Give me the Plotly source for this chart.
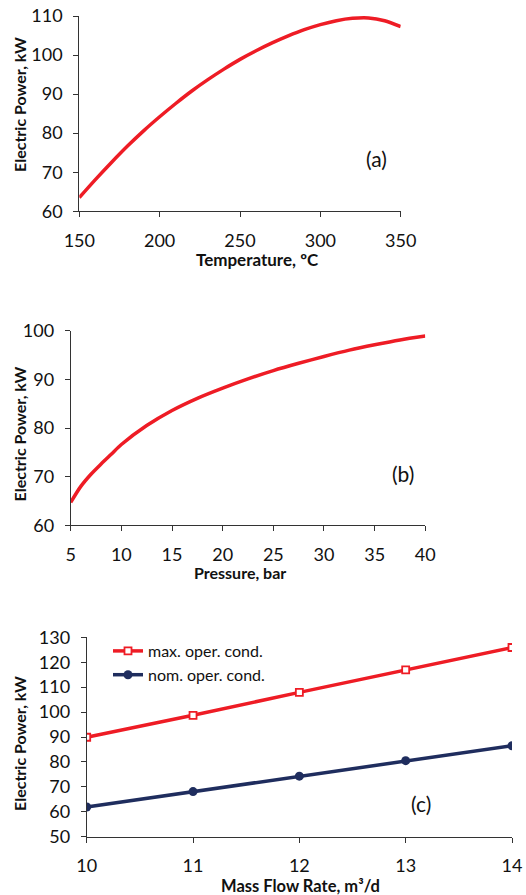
import plotly.graph_objects as go

W, H = 526, 895

# (a) Temperature vs Electric power
temp_c = [150, 160, 170, 180, 190, 200, 210, 220, 230, 240, 250, 260, 270, 280, 290, 300, 310, 320, 330, 340, 350]
power_a = [63.5, 68.1, 72.5, 76.7, 80.6, 84.2, 87.6, 90.8, 93.7, 96.4, 98.9, 101.1, 103.1, 104.9, 106.5, 107.8,
           108.8, 109.4, 109.5, 108.8, 107.3]

# (b) Pressure vs Electric power
pressure_bar = [5, 6, 7, 8, 9, 10, 12.5, 15, 17.5, 20, 22.5, 25, 27.5, 30, 32.5, 35, 37.5, 40]
power_b = [64.7, 68.0, 70.5, 72.6, 74.6, 76.6, 80.5, 83.6, 86.1, 88.2, 90.1, 91.8, 93.3, 94.7, 96.0, 97.1, 98.1, 98.9]

# (c) Mass flow rate vs Electric power
flow_rate = [10, 11, 12, 13, 14]
power_max = [89.9, 98.7, 107.9, 116.9, 125.9]
power_nom = [61.9, 68.1, 74.3, 80.5, 86.5]

x_ticks_a = [150, 200, 250, 300, 350]
y_ticks_a = [60, 70, 80, 90, 100, 110]
x_ticks_b = [5, 10, 15, 20, 25, 30, 35, 40]
y_ticks_b = [60, 70, 80, 90, 100]
x_ticks_c = [10, 11, 12, 13, 14]
y_ticks_c = [50, 60, 70, 80, 90, 100, 110, 120, 130]

RED = "#EE1C25"
NAVY = "#1F2D5E"
FONT = "Lato"
AXCOL = "#333333"


def px_x(p):
    return p / W


def px_y(p):
    return 1 - p / H


fig = go.Figure()

fig.add_trace(go.Scatter(x=temp_c, y=power_a, mode="lines",
                         line=dict(color=RED, width=3.5, shape="spline", smoothing=0.8),
                         showlegend=False, xaxis="x", yaxis="y"))
fig.add_trace(go.Scatter(x=pressure_bar, y=power_b, mode="lines",
                         line=dict(color=RED, width=3.5, shape="spline", smoothing=0.8),
                         showlegend=False, xaxis="x2", yaxis="y2"))
fig.add_trace(go.Scatter(x=flow_rate, y=power_max, mode="lines+markers", name="max. oper. cond.",
                         line=dict(color=RED, width=3.5),
                         marker=dict(symbol="square", size=7, color="white", line=dict(color=RED, width=1.8)),
                         xaxis="x3", yaxis="y3"))
fig.add_trace(go.Scatter(x=flow_rate, y=power_nom, mode="lines+markers", name="nom. oper. cond.",
                         line=dict(color=NAVY, width=3.5),
                         marker=dict(symbol="circle", size=9, color=NAVY),
                         xaxis="x3", yaxis="y3"))


def xaxis(dom, rng, ticks, anchor):
    return dict(domain=dom, range=rng, tickvals=ticks, anchor=anchor, showgrid=False, zeroline=False,
                showline=True, linecolor=AXCOL, linewidth=1, ticks="outside", ticklen=5, tickcolor=AXCOL,
                tickfont=dict(family=FONT, size=18, color="#111111"), ticklabelstandoff=8,
                automargin=False, fixedrange=True)


def yaxis(dom, rng, ticks, anchor):
    return dict(domain=dom, range=rng, tickvals=ticks, anchor=anchor, showgrid=False, zeroline=False,
                showline=True, linecolor=AXCOL, linewidth=1, ticks="outside", ticklen=5, tickcolor=AXCOL,
                tickfont=dict(family=FONT, size=18, color="#111111"), ticklabelstandoff=7,
                automargin=False, fixedrange=True)


fig.update_layout(
    width=W, height=H,
    margin=dict(l=0, r=0, t=0, b=0, autoexpand=False),
    paper_bgcolor="white", plot_bgcolor="white",
    font=dict(family=FONT, color="#111111"),
    xaxis=xaxis([px_x(79.3), px_x(400.7)], [150, 350], x_ticks_a, "y"),
    yaxis=yaxis([px_y(211.3), px_y(16)], [60, 110], y_ticks_a, "x"),
    xaxis2=xaxis([px_x(70.7), px_x(425.3)], [5, 40], x_ticks_b, "y2"),
    yaxis2=yaxis([px_y(525.3), px_y(330.7)], [60, 100], y_ticks_b, "x2"),
    xaxis3=xaxis([px_x(86.7), px_x(512)], [10, 14], x_ticks_c, "y3"),
    yaxis3=yaxis([px_y(836.7), px_y(637.3)], [50, 130], y_ticks_c, "x3"),
    showlegend=True,
    legend=dict(x=px_x(108), y=px_y(634), xanchor="left", yanchor="top", bgcolor="rgba(0,0,0,0)",
                font=dict(family=FONT, size=16, color="#111111"), tracegroupgap=0, itemwidth=30),
)

ann = [
    dict(text="<b>Electric Power, kW</b>", x=px_x(19), y=px_y(105), textangle=-90),
    dict(text="<b>Temperature, ºC</b>", x=px_x(257), y=px_y(259), size=17),
    dict(text="(a)", x=px_x(376), y=px_y(159), size=21),
    dict(text="<b>Electric Power, kW</b>", x=px_x(19), y=px_y(434.5), textangle=-90),
    dict(text="<b>Pressure, bar</b>", x=px_x(240), y=px_y(572)),
    dict(text="(b)", x=px_x(403), y=px_y(473), size=21),
    dict(text="<b>Electric Power, kW</b>", x=px_x(19), y=px_y(744), textangle=-90),
    dict(text="<b>Mass Flow Rate, m³/d</b>", x=px_x(300), y=px_y(885.5), size=16.5),
    dict(text="(c)", x=px_x(421), y=px_y(803), size=21),
]
for a in ann:
    fig.add_annotation(text=a["text"], x=a["x"], y=a["y"], xref="paper", yref="paper",
                       xanchor="center", yanchor="middle", showarrow=False,
                       textangle=a.get("textangle", 0),
                       font=dict(family=FONT, size=a.get("size", 16), color="#111111"))

# remove the browser's default body margin so the 526x895 figure fills the window exactly
fig.write_html("out.html", config={"displayModeBar": False},
               post_script="document.body.style.margin='0';")
